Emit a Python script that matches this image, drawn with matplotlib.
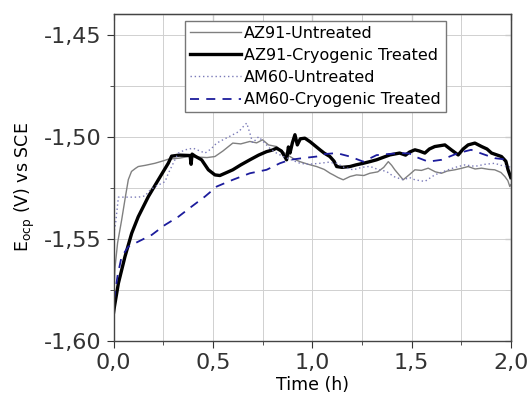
import matplotlib
matplotlib.use('Agg')
from matplotlib import pyplot as plt
import matplotlib.ticker as mticker

# AZ91 untreated (thin grey)
az91_u_t = [0, 0.007, 0.02, 0.04, 0.06, 0.074, 0.09, 0.11, 0.124, 0.16, 0.208, 0.25, 0.275,
            0.33, 0.376, 0.43, 0.47, 0.51, 0.55, 0.60, 0.64, 0.686, 0.72, 0.75, 0.78, 0.82,
            0.855, 0.888, 0.91, 0.938, 0.98, 1.022, 1.06, 1.09, 1.106, 1.13, 1.156, 1.19,
            1.223, 1.26, 1.29, 1.33, 1.36, 1.383, 1.40, 1.416, 1.44, 1.458, 1.49, 1.517,
            1.55, 1.584, 1.62, 1.651, 1.68, 1.718, 1.75, 1.785, 1.82, 1.853, 1.89, 1.919,
            1.95, 1.97, 1.985, 1.995, 2.0]
az91_u_e = [-1.578, -1.564, -1.552, -1.541, -1.529, -1.521, -1.517, -1.5155, -1.5146, -1.5140,
            -1.513, -1.5118, -1.511, -1.5105, -1.5097, -1.5100, -1.5102, -1.5097, -1.5070,
            -1.5031, -1.5035, -1.5023, -1.5030, -1.5015, -1.5040, -1.5048, -1.5075, -1.5097,
            -1.5110, -1.5122, -1.5135, -1.5146, -1.5160, -1.5179, -1.5187, -1.5200, -1.5211,
            -1.5195, -1.5187, -1.5190, -1.5179, -1.5172, -1.5150, -1.5122, -1.5140, -1.5162,
            -1.5190, -1.5211, -1.5185, -1.5162, -1.5165, -1.5154, -1.5172, -1.5179, -1.5168,
            -1.5162, -1.5155, -1.5146, -1.5158, -1.5154, -1.5160, -1.5162, -1.5175, -1.5195,
            -1.5215, -1.5244, -1.5235]

# AZ91 cryogenic treated (thick black)
az91_c_t = [0, 0.004, 0.024, 0.057, 0.091, 0.124, 0.175, 0.225, 0.275, 0.292, 0.33, 0.385,
            0.39, 0.395, 0.41, 0.443, 0.477, 0.51, 0.535, 0.57, 0.60, 0.64, 0.686, 0.73, 0.77,
            0.80, 0.82, 0.845, 0.871, 0.88, 0.888, 0.90, 0.913, 0.925, 0.94, 0.963, 0.99,
            1.039, 1.06, 1.089, 1.11, 1.123, 1.15, 1.19, 1.22, 1.257, 1.29, 1.324, 1.36,
            1.391, 1.44, 1.47, 1.49, 1.517, 1.54, 1.567, 1.59, 1.617, 1.668, 1.70, 1.735,
            1.76, 1.785, 1.819, 1.853, 1.88, 1.903, 1.953, 1.975, 1.986, 2.0]
az91_c_e = [-1.586, -1.5833, -1.5718, -1.5588, -1.5473, -1.5392, -1.5293, -1.5211, -1.513,
            -1.5095, -1.5090, -1.5092, -1.5135, -1.5085, -1.5095, -1.5113, -1.5162, -1.5187,
            -1.5190, -1.5175, -1.5162, -1.5138, -1.5113, -1.5090, -1.5073, -1.5065, -1.5056,
            -1.5070, -1.5113, -1.5050, -1.5080, -1.5030, -1.4990, -1.5040, -1.5010, -1.5007,
            -1.5025, -1.5064, -1.5080, -1.5097, -1.5120, -1.5146, -1.5150, -1.5146, -1.5138,
            -1.5130, -1.5122, -1.5113, -1.5100, -1.5089, -1.5080, -1.5090, -1.5075, -1.5064,
            -1.5070, -1.5080, -1.5060, -1.5048, -1.5040, -1.5064, -1.5089, -1.5060, -1.5040,
            -1.5031, -1.5048, -1.5060, -1.5080, -1.5097, -1.5120, -1.5162, -1.5200]

# AM60 untreated (dotted)
am60_u_t = [0, 0.01, 0.024, 0.06, 0.091, 0.125, 0.158, 0.18, 0.208, 0.235, 0.259, 0.275,
            0.292, 0.31, 0.326, 0.36, 0.40, 0.43, 0.46, 0.49, 0.519, 0.56, 0.60, 0.63, 0.653,
            0.67, 0.686, 0.70, 0.73, 0.76, 0.79, 0.82, 0.854, 0.90, 0.938, 0.98, 1.039, 1.08,
            1.123, 1.16, 1.206, 1.25, 1.29, 1.33, 1.374, 1.41, 1.458, 1.49, 1.517, 1.567,
            1.617, 1.684, 1.72, 1.768, 1.82, 1.87, 1.919, 1.95, 1.986, 2.0]
am60_u_e = [-1.548, -1.5424, -1.5296, -1.5296, -1.5296, -1.5296, -1.5290, -1.5265, -1.5244,
            -1.5232, -1.5220, -1.5180, -1.5146, -1.5110, -1.5080, -1.5064, -1.5056, -1.5068,
            -1.5080, -1.5060, -1.5031, -1.5010, -1.4990, -1.4975, -1.4950, -1.4933, -1.4982,
            -1.5030, -1.5000, -1.5030, -1.5060, -1.5080, -1.5097, -1.5115, -1.5130, -1.5135,
            -1.5130, -1.5125, -1.5130, -1.5150, -1.5162, -1.5150, -1.5145, -1.5160, -1.5170,
            -1.5195, -1.5211, -1.5200, -1.5211, -1.5219, -1.5187, -1.5162, -1.5150, -1.5138,
            -1.5145, -1.5135, -1.5130, -1.5140, -1.5146, -1.5150]

# AM60 cryogenic treated (dashed blue)
am60_c_t = [0, 0.004, 0.02, 0.04, 0.074, 0.124, 0.192, 0.259, 0.326, 0.393, 0.46, 0.50,
            0.519, 0.60, 0.686, 0.77, 0.837, 0.888, 0.95, 1.022, 1.06, 1.123, 1.19, 1.257,
            1.324, 1.38, 1.44, 1.49, 1.517, 1.584, 1.651, 1.735, 1.80, 1.86, 1.919, 1.986, 2.0]
am60_c_e = [-1.5800, -1.5784, -1.5680, -1.5588, -1.5539, -1.5514, -1.5481, -1.5432, -1.5392,
            -1.5342, -1.5293, -1.5260, -1.5244, -1.5211, -1.5179, -1.5162, -1.5130, -1.5113,
            -1.5105, -1.5097, -1.5085, -1.5080, -1.5097, -1.5122, -1.5090, -1.5085, -1.5080,
            -1.5082, -1.5097, -1.5122, -1.5113, -1.5080, -1.5064, -1.5085, -1.5105, -1.5113,
            -1.5115]

labels = ['AZ91-Untreated', 'AZ91-Cryogenic Treated', 'AM60-Untreated', 'AM60-Cryogenic Treated']

plt.rcParams['font.family'] = 'DejaVu Sans'
fig = plt.figure(figsize=(5.31, 3.99), dpi=100)
ax = fig.add_axes([0.214, 0.146, 0.748, 0.818])

ax.plot(az91_u_t, az91_u_e, color='#808080', lw=1.0, label=labels[0])
ax.plot(az91_c_t, az91_c_e, color='black', lw=2.4, label=labels[1])
ax.plot(am60_u_t, am60_u_e, color='#7a7ab8', lw=1.0, linestyle=(0, (1, 2)), label=labels[2])
ax.plot(am60_c_t, am60_c_e, color='#1c1c9c', lw=1.3, linestyle=(0, (5, 4)), label=labels[3])

ax.set_xlim(0, 2.0)
ax.set_ylim(-1.60, -1.44)
ax.xaxis.set_major_locator(mticker.MultipleLocator(0.5))
ax.xaxis.set_minor_locator(mticker.MultipleLocator(0.25))
ax.yaxis.set_major_locator(mticker.FixedLocator([-1.60, -1.55, -1.50, -1.45]))
ax.yaxis.set_minor_locator(mticker.MultipleLocator(0.025))
ax.xaxis.set_major_formatter(mticker.FuncFormatter(lambda v, _: f'{v:.1f}'.replace('.', ',')))
ax.yaxis.set_major_formatter(mticker.FuncFormatter(lambda v, _: f'{v:.2f}'.replace('.', ',')))
ax.grid(True, which='both', color='#d0d0d0', lw=0.7)
ax.set_axisbelow(True)
ax.tick_params(which='both', direction='out', labelsize=16, colors='#333333')
ax.tick_params(which='major', length=5)
ax.tick_params(which='minor', length=3)
ax.tick_params(axis='x', pad=4)
for s in ax.spines.values():
    s.set_color('#444444')
    s.set_linewidth(1.0)

# mirrored ticks on top and right, pointing inwards
top = ax.secondary_xaxis('top')
top.xaxis.set_major_locator(mticker.MultipleLocator(0.5))
top.xaxis.set_minor_locator(mticker.MultipleLocator(0.25))
top.tick_params(which='both', direction='in', labeltop=False, colors='#444444', length=4)
right = ax.secondary_yaxis('right')
right.yaxis.set_major_locator(mticker.FixedLocator([-1.60, -1.55, -1.50, -1.45]))
right.yaxis.set_minor_locator(mticker.MultipleLocator(0.025))
right.tick_params(which='both', direction='in', labelright=False, colors='#444444', length=4)

ax.set_xlabel('Time (h)', fontsize=12.5, labelpad=2)
ax.set_ylabel(r'E$_{\mathrm{ocp}}$ (V) vs SCE', fontsize=12.5, labelpad=2)
ax.yaxis.set_label_coords(-0.193, 0.47)

leg = ax.legend(loc='upper center', bbox_to_anchor=(0.508, 0.98), fontsize=11.5,
                handlelength=3.2, handletextpad=0.2, labelspacing=0.45, borderpad=0.3,
                borderaxespad=0, fancybox=False, framealpha=1, edgecolor='#777777')
leg.get_frame().set_linewidth(1.0)

fig.savefig('out.png', dpi=100)
